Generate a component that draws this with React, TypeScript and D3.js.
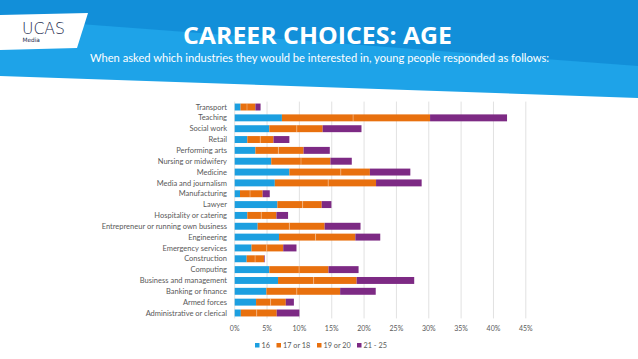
import React from "react";
import * as d3 from "d3";

const categories = [
  "Transport", "Teaching", "Social work", "Retail", "Performing arts",
  "Nursing or midwifery", "Medicine", "Media and journalism", "Manufacturing",
  "Lawyer", "Hospitality or catering", "Entrepreneur or running own business",
  "Engineering", "Emergency services", "Construction", "Computing",
  "Business and management", "Banking or finance", "Armed forces",
  "Administrative or clerical",
];
const seriesKeys = ["16", "17 or 18", "19 or 20", "21 - 25"];
const age16 = [0.9, 7.3, 5.35, 1.95, 3.2, 5.65, 8.45, 6.2, 0.82, 6.6, 1.95, 3.55, 6.85, 2.6, 1.85, 5.35, 6.7, 4.9, 3.3, 0.95];
const age17to18 = [1.0, 11.0, 4.25, 2.0, 3.55, 4.6, 7.95, 8.25, 1.55, 3.9, 2.15, 4.9, 5.65, 2.35, 1.3, 4.6, 5.5, 4.7, 2.25, 2.45];
const age19to20 = [1.3, 11.9, 4.0, 2.05, 3.9, 4.55, 4.5, 7.4, 1.95, 2.95, 2.35, 5.45, 6.15, 2.55, 1.4, 4.55, 6.65, 6.7, 2.35, 3.1];
const age21to25 = [0.8, 11.9, 6.0, 2.45, 4.05, 3.3, 6.25, 7.05, 1.1, 1.5, 1.8, 5.55, 3.85, 2.05, 0.1, 4.65, 8.9, 5.5, 1.25, 3.5];
const xTicks = [0, 5, 10, 15, 20, 25, 30, 35, 40, 45];
const colors = ["#1C9FE0", "#E8700E", "#E8700E", "#7D2A84"];

const W = 638, H = 359;
const FONT = "Lato, 'Open Sans', sans-serif";

export default function App() {
  const rows = categories.map((c, i) => ({
    cat: c,
    "16": age16[i],
    "17 or 18": age17to18[i],
    "19 or 20": age19to20[i],
    "21 - 25": age21to25[i],
  }));
  const stacked = d3.stack<any>().keys(seriesKeys)(rows);
  const x = d3.scaleLinear().domain([0, 45]).range([234.7, 525.8]);
  const y = d3.scaleBand().domain(categories).range([101.6, 318.4]).paddingInner(0.36).paddingOuter(0.18);
  const bh = y.bandwidth();

  return (
    <svg width={W} height={H} style={{ position: "absolute", left: 0, top: 0, display: "block" }} fontFamily={FONT}>
      <rect width={W} height={H} fill="#fff" />
      {/* header banner */}
      <polygon points={`0,0 ${W},0 ${W},98 0,76`} fill="#1EA3E8" />
      <polygon points={`0,0 ${W},0 ${W},66 0,18`} fill="#108CD6" opacity={0.85} />
      <polygon points="0,15 88,13 77,48 0,50" fill="#fff" />
      <text x={22} y={33.5} fontSize={16} fill="#1d2b4f" fontFamily="'DejaVu Sans', sans-serif" fontWeight={300}
        textLength={43} lengthAdjust="spacingAndGlyphs">UCAS</text>
      <text x={22.5} y={42} fontSize={5.8} fill="#1d2b4f" fontFamily="'DejaVu Sans', sans-serif">Media</text>
      <text x={183} y={44} fontSize={23} fontWeight={700} fill="#fff"
        textLength={269} lengthAdjust="spacingAndGlyphs" fontFamily="'Open Sans', sans-serif">
        CAREER CHOICES: AGE
      </text>
      <text x={90} y={62} fontSize={11.5} fill="#fff" textLength={459} lengthAdjust="spacingAndGlyphs">
        When asked which industries they would be interested in, young people responded as follows:
      </text>

      {/* gridlines */}
      {xTicks.map((t) => (
        <line key={t} x1={x(t)} x2={x(t)} y1={101.6} y2={318.4} stroke="#d9d9d9" strokeWidth={0.8} />
      ))}

      {/* bars */}
      {stacked.map((s, si) => (
        <g key={s.key} fill={colors[si]}>
          {s.map((d: any, i: number) => (
            <rect key={i} x={x(d[0])} y={y(categories[i])!} width={Math.max(0, x(d[1]) - x(d[0]))} height={bh} />
          ))}
        </g>
      ))}
      {/* faint separator between the two orange segments */}
      {stacked[2].map((d: any, i: number) => (
        <line key={i} x1={x(d[0])} x2={x(d[0])} y1={y(categories[i])!} y2={y(categories[i])! + bh}
          stroke="#ffffff" strokeOpacity={0.45} strokeWidth={0.7} />
      ))}

      {/* category labels */}
      {categories.map((c) => (
        <text key={c} x={227} y={y(c)! + bh / 2} dy="0.35em" fontSize={7.5} fill="#595959" textAnchor="end">{c}</text>
      ))}

      {/* x tick labels */}
      {xTicks.map((t) => (
        <text key={t} x={x(t)} y={331} fontSize={7} fill="#595959" textAnchor="middle">{t}%</text>
      ))}

      {/* legend */}
      {seriesKeys.map((k, i) => {
        const lx = [255, 276.5, 317, 357][i];
        return (
          <g key={k}>
            <rect x={lx} y={343} width={4.5} height={4.5} fill={colors[i]} />
            <text x={lx + 6.5} y={345.5} dy="0.35em" fontSize={7.3} fill="#595959">{k}</text>
          </g>
        );
      })}
    </svg>
  );
}
